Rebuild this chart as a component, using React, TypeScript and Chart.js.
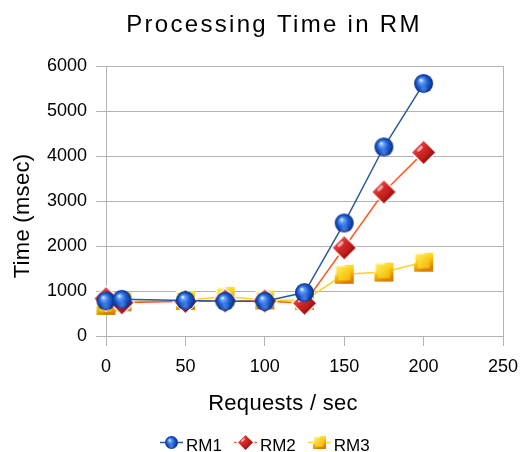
import React, { useEffect, useRef } from "react";
import { Chart, registerables } from "chart.js";

Chart.register(...registerables);

// ---- data ----
const chartTitle = "Processing Time in RM";
const xAxisTitle = "Requests / sec";
const yAxisTitle = "Time (msec)";
const seriesNames = ["RM1", "RM2", "RM3"];
const requestsPerSec = [0, 10, 50, 75, 100, 125, 150, 175, 200];
const rm1Values = [780, 815, 790, 770, 770, 965, 2510, 4200, 5610];
const rm2Values = [830, 740, 770, 780, 780, 730, 1960, 3200, 4080];
const rm3Values = [680, 760, 790, 880, 800, 790, 1370, 1420, 1640];
const xTickValues = [0, 50, 100, 150, 200, 250];
const yTickValues = [0, 1000, 2000, 3000, 4000, 5000, 6000];

const FONT = "'Liberation Sans', Arial, sans-serif";
const GRID = "#b3b3b3";
const lineColors = ["#2a5a9c", "#ff5a26", "#ffd320"];

function mkCanvas(s: number) {
  const c = document.createElement("canvas");
  c.width = s;
  c.height = s;
  return c;
}

function sphereImg(d: number) {
  const s = Math.ceil(d) + 2;
  const c = mkCanvas(s);
  const ctx = c.getContext("2d")!;
  const cx = s / 2, cy = s / 2, r = d / 2;
  const g = ctx.createRadialGradient(cx - r * 0.3, cy - r * 0.38, r * 0.04, cx, cy, r);
  g.addColorStop(0, "#eef6ff");
  g.addColorStop(0.18, "#6aa6ff");
  g.addColorStop(0.55, "#1f5fd6");
  g.addColorStop(1, "#0a2c82");
  ctx.beginPath();
  ctx.arc(cx, cy, r, 0, Math.PI * 2);
  ctx.fillStyle = g;
  ctx.fill();
  const g2 = ctx.createRadialGradient(cx, cy + r * 0.6, 0, cx, cy + r * 0.6, r * 0.55);
  g2.addColorStop(0, "rgba(110,170,255,0.55)");
  g2.addColorStop(1, "rgba(110,170,255,0)");
  ctx.beginPath();
  ctx.arc(cx, cy, r, 0, Math.PI * 2);
  ctx.fillStyle = g2;
  ctx.fill();
  return c;
}

function diamondImg(d: number) {
  const s = Math.ceil(d) + 4;
  const c = mkCanvas(s);
  const ctx = c.getContext("2d")!;
  const cx = s / 2, cy = s / 2, r = d / 2;
  const path = (k: number) => {
    ctx.beginPath();
    ctx.moveTo(cx, cy - r * k);
    ctx.lineTo(cx + r * k, cy);
    ctx.lineTo(cx, cy + r * k);
    ctx.lineTo(cx - r * k, cy);
    ctx.closePath();
  };
  path(1);
  ctx.strokeStyle = "#ffffff";
  ctx.lineWidth = 3;
  ctx.lineJoin = "round";
  ctx.stroke();
  const g = ctx.createLinearGradient(cx - r, cy - r, cx + r, cy + r);
  g.addColorStop(0, "#f46a6a");
  g.addColorStop(0.45, "#d42222");
  g.addColorStop(1, "#7a0000");
  ctx.fillStyle = g;
  path(1);
  ctx.fill();
  const g3 = ctx.createLinearGradient(cx - r * 0.6, cy - r * 0.6, cx + r * 0.6, cy + r * 0.6);
  g3.addColorStop(0, "#e63a3a");
  g3.addColorStop(1, "#b01212");
  ctx.fillStyle = g3;
  path(0.6);
  ctx.fill();
  ctx.beginPath();
  ctx.ellipse(cx - r * 0.32, cy - r * 0.32, r * 0.32, r * 0.14, -Math.PI / 4, 0, Math.PI * 2);
  ctx.fillStyle = "rgba(255,235,235,0.65)";
  ctx.fill();
  return c;
}

function squareImg(d: number) {
  const s = Math.ceil(d) + 2;
  const c = mkCanvas(s);
  const ctx = c.getContext("2d")!;
  const o = (s - d) / 2;
  const g = ctx.createLinearGradient(o, o, o + d * 0.4, o + d);
  g.addColorStop(0, "#fff27a");
  g.addColorStop(0.5, "#ffcf0a");
  g.addColorStop(1, "#d97e00");
  ctx.fillStyle = g;
  ctx.fillRect(o, o, d, d);
  const i = d * 0.18;
  const g2 = ctx.createLinearGradient(o + i, o + i, o + d - i, o + d - i);
  g2.addColorStop(0, "#ffe94a");
  g2.addColorStop(1, "#f3b500");
  ctx.fillStyle = g2;
  ctx.fillRect(o + i, o + i, d - 2 * i, d - 2 * i);
  ctx.fillStyle = "rgba(255,255,230,0.85)";
  ctx.fillRect(o, o, d * 0.55, Math.max(1.5, d * 0.09));
  ctx.fillRect(o, o, Math.max(1.5, d * 0.09), d * 0.55);
  return c;
}

const textPlugin = {
  id: "customTexts",
  afterDraw(chart: any) {
    const ctx = chart.ctx as CanvasRenderingContext2D;
    ctx.save();
    ctx.fillStyle = "#000";
    // title
    (ctx as any).letterSpacing = "2.3px";
    ctx.font = `24px ${FONT}`;
    ctx.textAlign = "center";
    ctx.textBaseline = "alphabetic";
    ctx.fillText(chartTitle, 274, 32);
    // x axis title
    (ctx as any).letterSpacing = "0.3px";
    ctx.font = `22px ${FONT}`;
    ctx.fillText(xAxisTitle, 283, 410);
    // y axis title
    ctx.save();
    ctx.translate(29, 216);
    ctx.rotate(-Math.PI / 2);
    ctx.fillText(yAxisTitle, 0, 0);
    ctx.restore();
    // legend
    (ctx as any).letterSpacing = "0px";
    ctx.font = `17px ${FONT}`;
    ctx.textAlign = "left";
    const icons = [sphereImg(13), diamondImg(15), squareImg(13)];
    let x = 160;
    const y = 442;
    seriesNames.forEach((name, k) => {
      ctx.strokeStyle = lineColors[k];
      ctx.lineWidth = 1.5;
      ctx.beginPath();
      ctx.moveTo(x, y + 0.5);
      ctx.lineTo(x + 23, y + 0.5);
      ctx.stroke();
      const im = icons[k];
      ctx.drawImage(im, Math.round(x + 11.5 - im.width / 2), Math.round(y - im.height / 2));
      ctx.fillText(name, x + 26, 451);
      x += 26 + ctx.measureText(name).width + 12;
    });
    ctx.restore();
  },
};

export default function App() {
  const ref = useRef<HTMLCanvasElement>(null);
  useEffect(() => {
    document.body.style.margin = "0";
    const canvas = ref.current!;
    const markers = [sphereImg(19), diamondImg(23), squareImg(19)];
    const vals = [rm1Values, rm2Values, rm3Values];
    const chart = new Chart(canvas, {
      type: "line",
      data: {
        datasets: seriesNames.map((name, k) => ({
          label: name,
          data: requestsPerSec.map((x, i) => ({ x, y: vals[k][i] })),
          borderColor: lineColors[k],
          backgroundColor: lineColors[k],
          borderWidth: 1.5,
          pointStyle: markers[k] as any,
          pointRadius: 9,
          pointHoverRadius: 9,
          clip: false as any,
          tension: 0,
        })),
      },
      options: {
        responsive: false,
        animation: false,
        events: [],
        layout: { padding: { top: 66, right: 19, left: 0, bottom: 0 } },
        plugins: {
          legend: { display: false },
          title: { display: false },
          tooltip: { enabled: false },
        },
        scales: {
          x: {
            type: "linear",
            min: 0,
            max: 250,
            afterBuildTicks: (s: any) => {
              s.ticks = xTickValues.map((v) => ({ value: v }));
            },
            afterFit: (s: any) => {
              s.height = 116;
              s.paddingLeft = 0;
              s.paddingRight = 0;
            },
            ticks: {
              font: { family: FONT, size: 18 },
              color: "#000",
              padding: 10,
              maxRotation: 0,
              callback: (v: any) => String(v),
            },
            grid: {
              drawOnChartArea: true,
              color: (c: any) => (c.tick && c.tick.value === 250 ? GRID : "rgba(0,0,0,0)"),
              tickColor: GRID,
              tickLength: 10,
              lineWidth: 1,
            },
            border: { color: GRID, width: 1 },
          },
          y: {
            type: "linear",
            min: 0,
            max: 6000,
            afterBuildTicks: (s: any) => {
              s.ticks = yTickValues.map((v) => ({ value: v }));
            },
            afterFit: (s: any) => {
              s.width = 106;
              s.paddingTop = 0;
              s.paddingBottom = 0;
            },
            ticks: {
              font: { family: FONT, size: 18 },
              color: "#000",
              padding: 9,
              callback: (v: any) => String(v),
            },
            grid: { color: GRID, tickColor: GRID, tickLength: 10, lineWidth: 1 },
            border: { color: GRID, width: 1 },
          },
        },
      },
      plugins: [textPlugin],
    });
    return () => chart.destroy();
  }, []);
  return (
    <div style={{ width: 522, height: 452 }}>
      <canvas ref={ref} width={522} height={452} />
    </div>
  );
}
